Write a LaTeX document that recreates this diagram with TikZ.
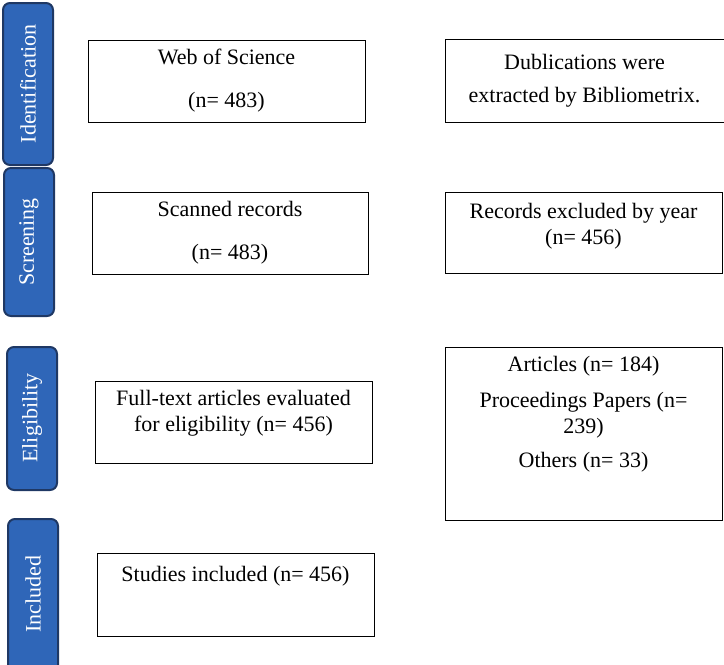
\documentclass[tikz,border=0pt]{standalone}
\usepackage{fontspec}
\setmainfont{Liberation Serif}
\definecolor{tabfill}{HTML}{2F66B8}
\definecolor{tabline}{HTML}{1F3864}
\tikzset{
    phase/.style={draw=tabline,line width=2pt,fill=tabfill,rounded corners=7pt},
    tabtext/.style={rotate=90,text=white,font=\fontsize{22}{26}\selectfont},
    box/.style={draw,line width=1pt,align=center,inner sep=0pt,
        font=\fontsize{22}{26}\selectfont}
}
\begin{document}
\begin{tikzpicture}[x=1pt,y=-1pt]
    \useasboundingbox (0,0) rectangle (724,665);
    % Phase tabs
    \draw [phase] (3,3) rectangle (53,165);
    \draw [phase] (4,168) rectangle (54,316);
    \draw [phase] (7,347) rectangle (57,490);
    \draw [phase] (8,519) rectangle (58,675);
    \node (ident) [tabtext] at (28,84) {Identification};
    \node (screen) [tabtext] at (29,242) {Screening};
    \node (elig) [tabtext] at (32,418) {Eligibility};
    \node (incl) [tabtext] at (33,594) {Included};

    % Left column
    \node (wos) [box,minimum width=277pt,minimum height=82pt] at (226.5,81)
        {Web of Science\\[17pt](n= 483)};
    \node (scan) [box,minimum width=276pt,minimum height=82pt] at (230,233)
        {Scanned records\\[17pt](n= 483)};
    \node (full) [box,minimum width=277pt,minimum height=82pt] at (233.5,422)
        {Full-text articles evaluated\\for eligibility (n= 456)\\[-12pt]\strut};
    \node (study) [box,minimum width=277pt,minimum height=83pt] at (235.5,594.5)
        {Studies included (n= 456)\\[7pt]\strut};

    % Right column
    \node (dupl) [box,minimum width=279pt,minimum height=83pt] at (584.5,80.5)
        {Dublications were\\[7pt]extracted by Bibliometrix.};
    \node (year) [box,minimum width=277pt,minimum height=81pt] at (583.5,232.5)
        {Records excluded by year\\(n= 456)\\[-16pt]\strut};
    \node (types) [box,minimum width=277pt,minimum height=173pt] at (583.5,433.5)
        {Articles (n= 184)\\[10pt]Proceedings Papers (n=\\239)\\[8pt]Others (n= 33)\\[10pt]\strut};
\end{tikzpicture}
\end{document}
